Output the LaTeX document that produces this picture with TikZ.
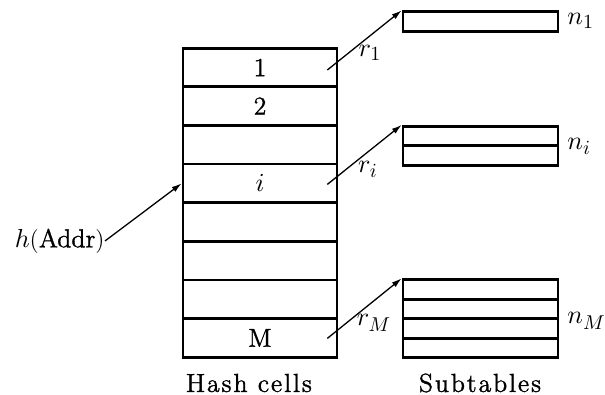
\documentclass[tikz,border=0pt]{standalone}
\usepackage{fontspec}
\setmainfont{Latin Modern Roman}[FakeBold=1.2]
\DeclareFontShape{OML}{cmm}{m}{it}{<->cmmi10}{}
\DeclareMathSizes{13}{13}{10}{8}
\usetikzlibrary{arrows.meta,calc}
\newcommand{\spaced}[1]{{\addfontfeature{LetterSpace=7}#1}}
\begin{document}
\begin{tikzpicture}[x=0.5pt,y=-0.5pt,
  font=\fontsize{13}{15}\selectfont,
  cell/.style={draw,line width=1.35pt,minimum width=77pt,minimum height=19.3pt,inner sep=0pt,anchor=center},
  sub/.style={draw,line width=1.35pt,minimum width=77.5pt,minimum height=9.75pt,inner sep=0pt,anchor=center},
  ptr/.style={line width=0.65pt,-{Latex[length=5pt,width=3pt]}},
  lbl/.style={inner sep=0pt}]
\useasboundingbox (0,0) rectangle (605,395);

% hash cells
\node[cell] (c1) at (260,67.5) {1};
\node[cell] (c2) at (260,106.1) {2};
\node[cell] (c3) at (260,144.8) {};
\node[cell] (ci) at (260,183.4) {$i$};
\node[cell] (c5) at (260,222) {};
\node[cell] (c6) at (260,260.6) {};
\node[cell] (c7) at (260,299.3) {};
\node[cell] (cM) at (260,337.9) {M};

% subtables
\node[sub] (s1) at (480.5,21.5) {};
\node[sub] (si1) at (480.5,136) {};
\node[sub] (si2) at (480.5,155.5) {};
\node[sub] (sM1) at (480.5,289.5) {};
\node[sub] (sM2) at (480.5,309) {};
\node[sub] (sM3) at (480.5,328.5) {};
\node[sub] (sM4) at (480.5,348) {};

% pointer origins inside the cells
\coordinate (p1) at ($(c1.east)+(-11,2.5)$);
\coordinate (pi) at ($(ci.east)+(-11,1)$);
\coordinate (pM) at ($(cM.east)+(-11,0.5)$);

\draw[ptr] (p1) -- (s1.north west);
\draw[ptr] (pi) -- (si1.north west);
\draw[ptr] (pM) -- (sM1.north west);

\node[lbl] (r1) at (370,53) {$r_1$};
\node[lbl] (ri) at (368,169) {$r_i$};
\node[lbl] (rM) at (374,323) {$r_M$};

\node[lbl,anchor=west] (n1) at (567,21) {$n_1$};
\node[lbl,anchor=west] (ni) at (567,146) {$n_i$};
\node[lbl,anchor=west] (nM) at (567,321) {$n_M$};

% hashed address
\node[lbl,anchor=east] (h) at (105,241) {$h($Addr$)$};
\draw[ptr] (h.east) -- (ci.west);

\node[lbl] (hc) at (249,383) {\spaced{Hash cells}};
\node[lbl] (st) at (480,383) {\spaced{Subtables}};
\end{tikzpicture}
\end{document}
